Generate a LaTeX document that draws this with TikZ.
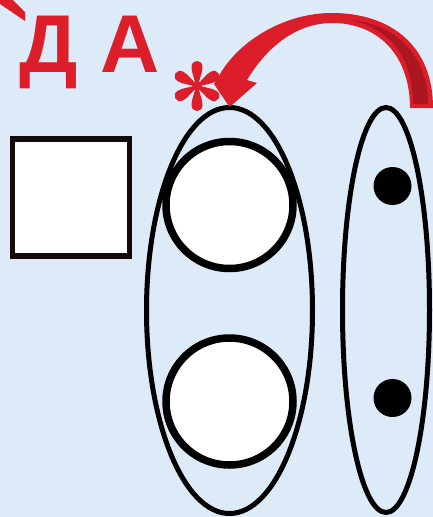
\documentclass[tikz,border=0pt]{standalone}
\usepackage{fontspec}
\setmainfont{Liberation Sans}
\definecolor{bgblue}{RGB}{221,234,247}
\definecolor{redA}{RGB}{220,30,43}
\definecolor{redD}{RGB}{172,22,32}
\definecolor{sqline}{RGB}{20,10,10}
\tikzset{
  ring/.style={circle,draw=black,line width=7.5pt,fill=white,minimum size=127pt,inner sep=0pt},
  oval/.style={draw=black,line width=5pt},
  dot/.style={circle,fill=black,minimum size=38pt,inner sep=0pt},
  petal/.style={fill=redA,draw=none}
}
\begin{document}
\begin{tikzpicture}[x=1pt,y=-1pt]
\fill[bgblue] (0,0) rectangle (433,517);
\useasboundingbox (0,0) rectangle (433,517);
% corner wedge
\fill[redA] (0,0) -- (13,0) -- (25,12) -- (25,21) -- (0,4) -- cycle;
% text
\node[anchor=base west,inner sep=0pt,text=redA,font=\bfseries\fontsize{82}{82}\selectfont] (da) at (19,72) {Д А};
% square
\node[draw=sqline,line width=5.5pt,fill=white,minimum size=117pt,inner sep=0pt] (sq) at (71,197.5) {};
% ellipses
\draw[oval] (229.5,310.5) ellipse [x radius=83pt, y radius=203pt];
\draw[oval] (386,310) ellipse [x radius=43.5pt, y radius=202.5pt];
\coordinate (lefttop) at (229.5,107);
% circles
\node[ring] (c1) at (229.5,205) {};
\node[ring] (c2) at (229.5,401.5) {};
% dots
\node[dot] (d1) at (392.5,186) {};
\node[dot] (d2) at (392.5,398) {};
% asterisk
\begin{scope}[shift={(197,86)}]
\foreach \a in {90,150,210,270,330,30}{
  \fill[petal,rotate=\a] (0,-1.5) .. controls (8,-2) and (12,-5.5) .. (19,-5.5)
     .. controls (27,-5.5) and (27,5.5) .. (19,5.5)
     .. controls (12,5.5) and (8,2) .. (0,1.5) -- cycle;
}
\fill[redA] (0,0) circle (3.5pt);
\end{scope}
% arrow
\fill[redA] (433,108) .. controls (433,45) and (390,13) .. (332,13)
  .. controls (285,13) and (240,40) .. (220,74)
  -- (214,84) -- (lefttop) -- (257,83) -- (247,80)
  .. controls (268,45) and (298,23) .. (332,23)
  .. controls (378,23) and (410,55) .. (410,108) -- cycle;
\fill[redD] (413,104) .. controls (413,58) and (390,28) .. (350,20)
  .. controls (398,24) and (428,58) .. (428,104) -- cycle;
\end{tikzpicture}
\end{document}
